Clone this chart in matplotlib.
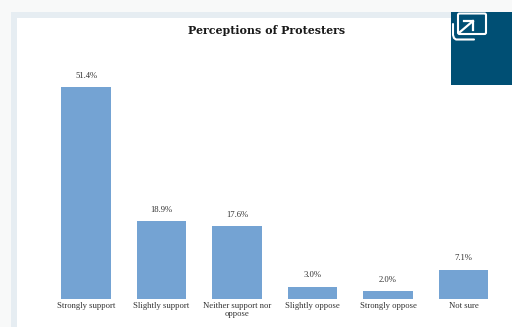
import matplotlib
matplotlib.use("Agg")
import matplotlib.pyplot as plt
from matplotlib.patches import Rectangle, FancyBboxPatch

# Survey responses
categories = ["Strongly support", "Slightly support", "Neither support nor\noppose",
              "Slightly oppose", "Strongly oppose", "Not sure"]
values = [51.4, 18.9, 17.6, 3.0, 2.0, 7.1]
value_labels = ["51.4%", "18.9%", "17.6%", "3.0%", "2.0%", "7.1%"]

W, H = 512, 327
SERIF = ["Liberation Serif", "DejaVu Serif"]

fig = plt.figure(figsize=(W / 100, H / 100), dpi=100, facecolor="#f8f9f9")

# page furniture, in pixels with the origin at the top left
page = fig.add_axes([0, 0, 1, 1], zorder=0)
page.set_xlim(0, W)
page.set_ylim(H, 0)
page.axis("off")
page.add_patch(Rectangle((11, 12), W - 11, H - 12, fc="#e6edf2", ec="none"))
page.add_patch(Rectangle((17, 18), W - 17, H - 18, fc="white", ec="none"))

# bar chart
left, right, bottom, top = 48.25, 501.25, 299, 51.5
ax = fig.add_axes([left / W, 1 - bottom / H, (right - left) / W, (bottom - top) / H], zorder=1)
ax.patch.set_alpha(0)
x = range(len(categories))
ax.bar(x, values, width=0.65, color="#74a3d3")
ax.set_xlim(-0.5, 5.5)
ax.set_ylim(0, 60)
ax.set_yticks([])
ax.set_xticks(list(x))
ax.set_xticklabels(categories, fontsize=6.2, family=SERIF, color="#333333", linespacing=1.0)
ax.tick_params(axis="x", length=0, pad=2.5)
for s in ax.spines.values():
    s.set_visible(False)
for i, v in enumerate(values):
    ax.annotate(value_labels[i], (i, v), xytext=(0, 5.2), textcoords="offset points",
                ha="center", va="bottom", fontsize=6.2, family=SERIF, color="#333333")

fig.text(266.5 / W, 1 - 30 / H, "Perceptions of Protesters", ha="center", va="center",
         fontsize=7.9, fontweight="bold", family=["DejaVu Serif"], color="#1a1a1a")

# expand button in the corner
btn = fig.add_axes([0, 0, 1, 1], zorder=2)
btn.set_xlim(0, W)
btn.set_ylim(H, 0)
btn.axis("off")
btn.add_patch(Rectangle((451, 12), 61, 73, fc="#004f74", ec="none"))
btn.add_patch(FancyBboxPatch((458, 13.5), 28, 20.5, boxstyle="round,pad=0,rounding_size=1.5",
                             fc="none", ec="white", lw=1.5))
btn.plot([453, 453, 454, 456, 474], [24, 35, 38, 39.5, 39.5], color="white", lw=1.5,
         solid_capstyle="round")
btn.plot([460, 473], [32, 21], color="white", lw=1.6)
btn.plot([464, 473, 473], [21, 21, 30], color="white", lw=1.6)

fig.savefig("out.png", dpi=100)
